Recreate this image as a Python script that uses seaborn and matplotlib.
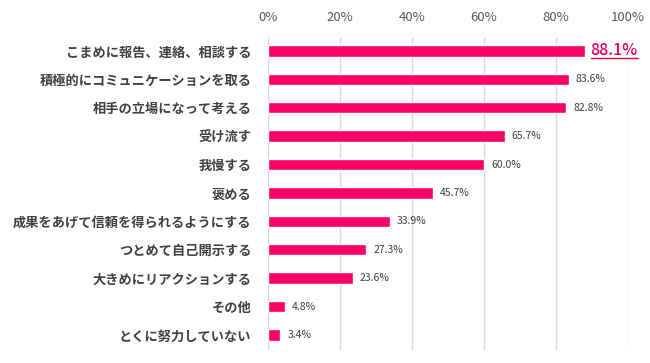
import matplotlib
matplotlib.use("Agg")
import matplotlib.pyplot as plt
import seaborn as sns
import pandas as pd
from matplotlib.lines import Line2D

categories = ["こまめに報告、連絡、相談する", "積極的にコミュニケーションを取る", "相手の立場になって考える",
              "受け流す", "我慢する", "褒める", "成果をあげて信頼を得られるようにする",
              "つとめて自己開示する", "大きめにリアクションする", "その他", "とくに努力していない"]
values = [88.1, 83.6, 82.8, 65.7, 60.0, 45.7, 33.9, 27.3, 23.6, 4.8, 3.4]
xticks = [0, 20, 40, 60, 80, 100]
xtick_labels = ["0%", "20%", "40%", "60%", "80%", "100%"]

sns.set_style("white")
plt.rcParams['font.family'] = ['Noto Sans CJK JP', 'DejaVu Sans']

df = pd.DataFrame({"cat": categories, "val": values})
fig = plt.figure(figsize=(6.5, 3.63), dpi=100)
ax = fig.add_axes([268/650, 1-350/363, 360/650, (350-37)/363])
pink = "#FF0066"
sns.barplot(data=df, x="val", y="cat", color=pink, width=0.4, saturation=1, ax=ax, zorder=3)
ax.set_xlim(0, 100)
ax.set_ylim(10.53, -0.49)
ax.set_xticks(xticks)
ax.set_xticklabels(xtick_labels)
ax.xaxis.tick_top()
ax.tick_params(axis='x', length=0, pad=9, labelsize=9.5, labelcolor="#595959")
ax.tick_params(axis='y', length=0, pad=12, labelsize=9.5, labelcolor="#404040")
for lab in ax.get_yticklabels():
    lab.set_fontweight('bold')
ax.set_xlabel("")
ax.set_ylabel("")
for s in ax.spines.values():
    s.set_visible(False)
ax.grid(axis='x', color="#d9d9d9", linewidth=1, zorder=0)
ax.grid(axis='y', visible=False)

texts = []
for i, v in enumerate(values):
    if i == 0:
        t = ax.annotate(f"{v:.1f}%", (v, i), xytext=(4, 0), textcoords="offset points",
                        va="center", ha="left", fontsize=11.5, color="#E0005A", fontweight="medium")
        texts.append(t)
    else:
        ax.annotate(f"{v:.1f}%", (v, i), xytext=(5, 0), textcoords="offset points",
                    va="center", ha="left", fontsize=7.5, color="#404040")

fig.canvas.draw()
r = fig.canvas.get_renderer()
for t in texts:
    bb = t.get_window_extent(r)
    W, H = fig.bbox.width, fig.bbox.height
    y = (bb.y0 + 1) / H
    fig.add_artist(Line2D([bb.x0 / W, bb.x1 / W], [y, y], color="#E0005A", linewidth=1))

fig.savefig("out.png", dpi=100)
